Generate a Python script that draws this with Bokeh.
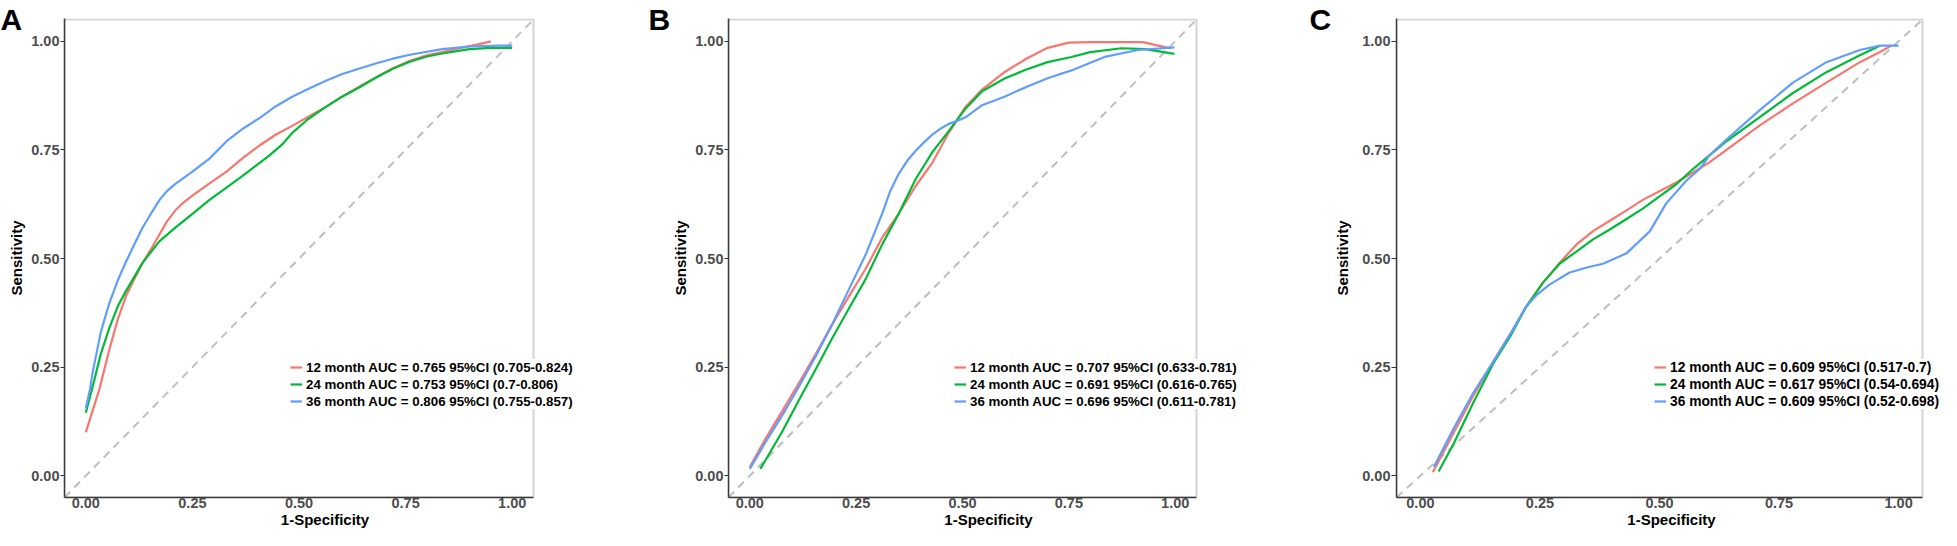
from bokeh.plotting import figure
from bokeh.layouts import row
from bokeh.models import (Range1d, FixedTicker, NumeralTickFormatter, Legend,
                          LegendItem, Slope, BoxAnnotation)
from bokeh.embed import file_html
from bokeh.resources import INLINE

# ---------------- data ----------------
tick_values = [0.0, 0.25, 0.5, 0.75, 1.0]
tick_labels = ["0.00", "0.25", "0.50", "0.75", "1.00"]
colors = ["#F8766D", "#00BA38", "#619CFF"]

# Panel A
a12_x = [0.0, 0.016, 0.032, 0.055, 0.075, 0.094, 0.115, 0.133, 0.155, 0.173, 0.19, 0.21, 0.23, 0.25, 0.29, 0.33, 0.37, 0.41, 0.445, 0.485, 0.525, 0.563, 0.60, 0.64, 0.68, 0.72, 0.76, 0.80, 0.836, 0.88, 0.92, 0.95]
a12_y = [0.10, 0.15, 0.20, 0.29, 0.36, 0.413, 0.455, 0.49, 0.525, 0.556, 0.585, 0.611, 0.63, 0.645, 0.673, 0.70, 0.733, 0.762, 0.785, 0.806, 0.828, 0.849, 0.872, 0.895, 0.917, 0.938, 0.955, 0.968, 0.975, 0.985, 0.993, 1.0]
a24_x = [0.0, 0.016, 0.035, 0.055, 0.075, 0.094, 0.115, 0.133, 0.155, 0.173, 0.21, 0.25, 0.29, 0.33, 0.37, 0.41, 0.43, 0.46, 0.485, 0.52, 0.563, 0.60, 0.64, 0.68, 0.72, 0.76, 0.80, 0.836, 0.9, 0.95, 1.0]
a24_y = [0.145, 0.205, 0.28, 0.34, 0.39, 0.425, 0.46, 0.49, 0.518, 0.54, 0.571, 0.603, 0.635, 0.663, 0.692, 0.722, 0.737, 0.762, 0.79, 0.82, 0.849, 0.872, 0.893, 0.916, 0.937, 0.953, 0.965, 0.972, 0.982, 0.985, 0.985]
a36_x = [0.0, 0.01, 0.016, 0.035, 0.055, 0.075, 0.094, 0.115, 0.133, 0.155, 0.173, 0.19, 0.21, 0.25, 0.29, 0.33, 0.37, 0.41, 0.445, 0.485, 0.525, 0.563, 0.60, 0.64, 0.68, 0.72, 0.76, 0.80, 0.836, 0.9, 0.97, 1.0]
a36_y = [0.155, 0.20, 0.238, 0.33, 0.397, 0.45, 0.492, 0.535, 0.571, 0.607, 0.635, 0.655, 0.672, 0.70, 0.73, 0.77, 0.80, 0.825, 0.85, 0.873, 0.892, 0.909, 0.924, 0.937, 0.949, 0.96, 0.969, 0.976, 0.982, 0.988, 0.99, 0.99]
legend_a = ["12 month AUC = 0.765 95%CI (0.705-0.824)",
            "24 month AUC = 0.753 95%CI (0.7-0.806)",
            "36 month AUC = 0.806 95%CI (0.755-0.857)"]

# Panel B
b12_x = [0.0, 0.038, 0.077, 0.116, 0.155, 0.194, 0.233, 0.272, 0.311, 0.35, 0.39, 0.43, 0.468, 0.507, 0.546, 0.6, 0.65, 0.70, 0.75, 0.80, 0.85, 0.924, 0.96, 0.99]
b12_y = [0.02, 0.087, 0.15, 0.214, 0.28, 0.349, 0.413, 0.476, 0.548, 0.603, 0.667, 0.722, 0.79, 0.849, 0.889, 0.93, 0.96, 0.985, 0.997, 0.998, 0.998, 0.998, 0.99, 0.984]
b24_x = [0.025, 0.077, 0.116, 0.155, 0.194, 0.233, 0.272, 0.311, 0.35, 0.39, 0.43, 0.468, 0.507, 0.546, 0.6, 0.65, 0.70, 0.756, 0.80, 0.874, 0.93, 0.998]
b24_y = [0.016, 0.103, 0.175, 0.245, 0.317, 0.385, 0.452, 0.532, 0.603, 0.683, 0.746, 0.794, 0.845, 0.885, 0.915, 0.935, 0.952, 0.964, 0.975, 0.984, 0.982, 0.971]
b36_x = [0.0, 0.038, 0.077, 0.116, 0.155, 0.194, 0.233, 0.272, 0.311, 0.33, 0.35, 0.37, 0.39, 0.41, 0.43, 0.45, 0.468, 0.49, 0.507, 0.546, 0.6, 0.65, 0.70, 0.756, 0.834, 0.912, 0.998]
b36_y = [0.016, 0.079, 0.14, 0.206, 0.275, 0.349, 0.429, 0.508, 0.603, 0.655, 0.695, 0.725, 0.748, 0.768, 0.786, 0.80, 0.81, 0.818, 0.825, 0.853, 0.873, 0.895, 0.915, 0.933, 0.964, 0.98, 0.986]
legend_b = ["12 month AUC = 0.707 95%CI (0.633-0.781)",
            "24 month AUC = 0.691 95%CI (0.616-0.765)",
            "36 month AUC = 0.696 95%CI (0.611-0.781)"]

# Panel C
c12_x = [0.026, 0.07, 0.11, 0.152, 0.19, 0.221, 0.256, 0.291, 0.326, 0.361, 0.396, 0.431, 0.465, 0.5, 0.535, 0.57, 0.605, 0.64, 0.709, 0.779, 0.849, 0.919, 0.96, 0.985]
c12_y = [0.008, 0.10, 0.183, 0.262, 0.33, 0.389, 0.444, 0.49, 0.532, 0.563, 0.587, 0.611, 0.635, 0.655, 0.675, 0.698, 0.722, 0.75, 0.806, 0.857, 0.905, 0.952, 0.975, 0.99]
c24_x = [0.038, 0.07, 0.11, 0.152, 0.19, 0.221, 0.256, 0.291, 0.326, 0.361, 0.396, 0.431, 0.465, 0.5, 0.535, 0.57, 0.605, 0.64, 0.709, 0.779, 0.849, 0.919, 0.961]
c24_y = [0.01, 0.075, 0.167, 0.258, 0.325, 0.389, 0.444, 0.488, 0.516, 0.544, 0.567, 0.591, 0.615, 0.643, 0.671, 0.706, 0.738, 0.77, 0.825, 0.881, 0.929, 0.968, 0.99]
c36_x = [0.028, 0.07, 0.11, 0.152, 0.19, 0.221, 0.242, 0.27, 0.312, 0.35, 0.382, 0.431, 0.48, 0.514, 0.556, 0.584, 0.605, 0.64, 0.709, 0.779, 0.849, 0.919, 0.961, 1.0]
c36_y = [0.02, 0.11, 0.19, 0.262, 0.33, 0.389, 0.415, 0.44, 0.468, 0.48, 0.488, 0.512, 0.563, 0.627, 0.679, 0.706, 0.738, 0.774, 0.841, 0.905, 0.952, 0.98, 0.99, 0.99]
legend_c = ["12 month AUC = 0.609 95%CI (0.517-0.7)",
            "24 month AUC = 0.617 95%CI (0.54-0.694)",
            "36 month AUC = 0.609 95%CI (0.52-0.698)"]

FONT = "Liberation Sans"
LO, HI = -0.05, 1.05   # panel limits (ggplot expansion)


def make_panel(letter, xs_list, ys_list, labels, left, panel_w, extra_w, right,
               ytick_out, ylab_standoff, letter_off, legend_x, legend_font):
    # frame is widened to the right so the legend may overhang the panel border
    px_per_unit = panel_w / (HI - LO)
    x_end = LO + (panel_w + extra_w) / px_per_unit
    p = figure(width=left + panel_w + extra_w + right, height=530,
               x_range=Range1d(LO, x_end), y_range=Range1d(LO, HI + 0.0025),
               output_backend="svg", toolbar_location=None,
               min_border_left=left, min_border_right=right,
               min_border_top=18, min_border_bottom=0)
    p.grid.visible = False
    p.background_fill_color = "white"
    p.border_fill_color = "white"
    p.outline_line_color = None

    # panel border (top and right sides; left/bottom come from the axes)
    border = BoxAnnotation(left=LO, right=HI, bottom=LO, top=HI,
                           fill_alpha=0, line_color="#6E6E6E", line_width=2)
    p.add_layout(border)

    diag = Slope(gradient=1, y_intercept=0, line_color="#BEBEBE",
                 line_width=2, line_dash="8 6", level="underlay")
    p.add_layout(diag)

    rends = []
    for xs, ys, c in zip(xs_list, ys_list, colors):
        r = p.line(xs, ys, line_color=c, line_width=2.2, line_join="round")
        rends.append(r)

    legend = Legend(items=[LegendItem(label=l, renderers=[r]) for l, r in zip(labels, rends)],
                    location=(legend_x, 88), orientation="vertical",
                    glyph_width=12, glyph_height=16, label_height=16,
                    label_standoff=4, spacing=1, padding=5, margin=0,
                    border_line_color=None, background_fill_color="white",
                    background_fill_alpha=1.0,
                    label_text_font=FONT, label_text_font_style="bold",
                    label_text_font_size=legend_font, label_text_color="black")
    p.add_layout(legend, "center")

    for ax in (p.xaxis[0], p.yaxis[0]):
        ax.ticker = FixedTicker(ticks=tick_values)
        ax.formatter = NumeralTickFormatter(format="0.00")
        ax.major_label_overrides = dict(zip(tick_values, tick_labels))
        ax.major_label_text_font = FONT
        ax.major_label_text_font_style = "bold"
        ax.major_label_text_font_size = "14.5px"
        ax.major_label_text_color = "#4D4D4D"
        ax.axis_label_text_font = FONT
        ax.axis_label_text_font_style = "bold"
        ax.axis_label_text_font_size = "15px"
        ax.axis_label_text_color = "black"
        ax.axis_line_color = "#333333"
        ax.axis_line_width = 1.5
        ax.major_tick_line_color = "#333333"
        ax.major_tick_line_width = 1.2
        ax.minor_tick_line_color = None
        ax.major_tick_in = 0

    p.xaxis.axis_label = "1-Specificity"
    p.xaxis.bounds = (LO, HI)
    p.xaxis.major_tick_out = 0
    p.xaxis.major_label_standoff = 0
    p.xaxis.axis_label_standoff = 0

    p.yaxis.axis_label = "Sensitivity"
    p.yaxis.major_tick_out = ytick_out
    p.yaxis.major_label_standoff = 1
    p.yaxis.axis_label_standoff = ylab_standoff

    # panel letter as the figure title
    p.title.text = letter
    p.title.align = "left"
    p.title.offset = letter_off
    p.title.standoff = -34
    p.title.text_font = FONT
    p.title.text_font_size = "30px"
    p.title.text_font_style = "bold"
    p.title.text_color = "black"
    return p


pA = make_panel("A", [a12_x, a24_x, a36_x], [a12_y, a24_y, a36_y], legend_a,
                64, 469, 52, 4, 4, 3, -64, 226, "13.3px")
pB = make_panel("B", [b12_x, b24_x, b36_x], [b12_y, b24_y, b36_y], legend_b,
                139, 468, 52, 4, 4, 3, -80, 226, "13.3px")
pC = make_panel("C", [c12_x, c24_x, c36_x], [c12_y, c24_y, c36_y], legend_c,
                144, 526, 24, 0, 5, 8, -87, 258, "13.8px")

layout = row(pA, pB, pC)
open("out.html", "w").write(file_html(layout, INLINE))
